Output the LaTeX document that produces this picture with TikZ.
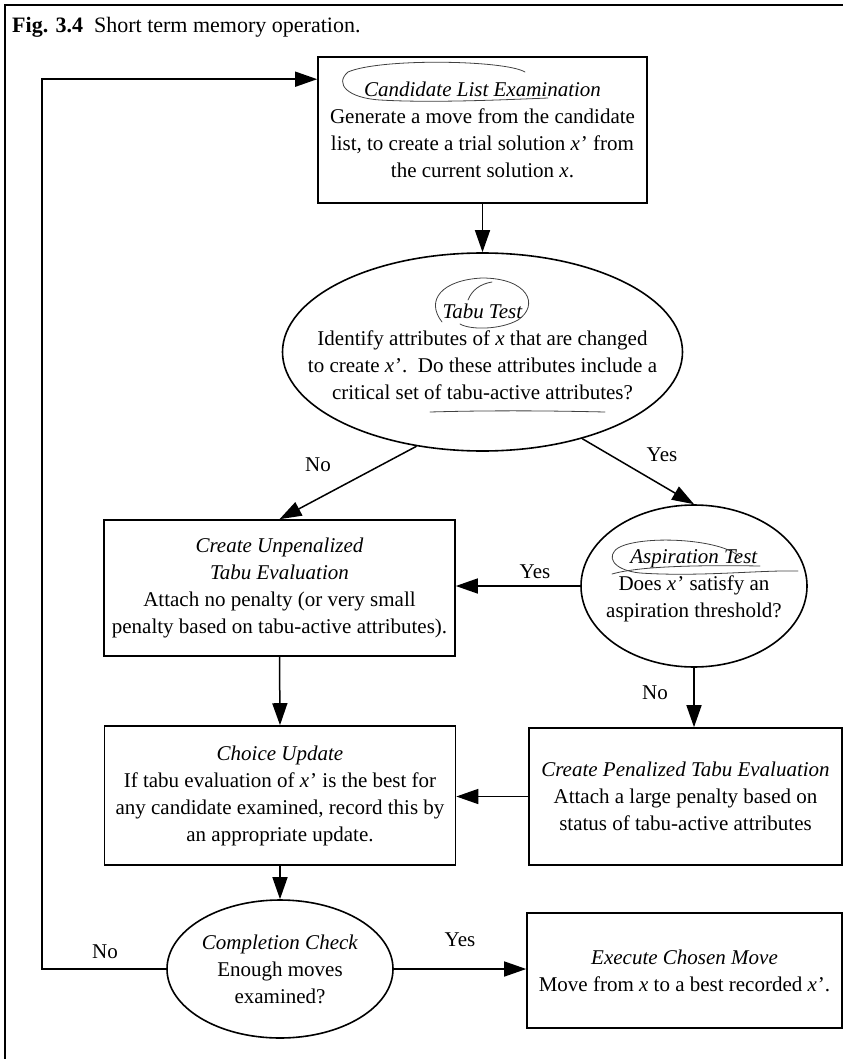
\documentclass[tikz,border=0pt]{standalone}
\usepackage{fontspec}
\setmainfont{Liberation Serif}
\usetikzlibrary{arrows.meta,shapes.geometric}
\begin{document}
\begin{tikzpicture}[x=1pt,y=-1pt,
  font=\fontsize{21}{27}\selectfont,
  rbox/.style={draw, line width=1.6pt, rectangle, align=center, inner sep=0pt},
  ell/.style={draw, line width=1.6pt, ellipse, inner sep=0pt},
  txt/.style={align=center, inner sep=0pt},
  lbl/.style={inner sep=0pt},
  arr/.style={line width=1.5pt, -{Triangle[length=22pt,width=15pt]}},
  frame/.style={line width=1.3pt},
  pen/.style={line width=0.8pt, draw=black!75, line cap=round}]
\useasboundingbox (0,0) rectangle (843,1059);
% frame
\draw[frame] (5,1059) -- (5,5) -- (843,5);
% title
\node[anchor=base west, inner sep=0pt, font=\fontsize{22}{26}\selectfont] (title) at (12,33)
  {\textbf{Fig. 3.4}\enspace Short term memory operation.};
% nodes
\node[rbox, minimum width=329pt, minimum height=146pt] (cand) at (482.5,130)
  {\textit{Candidate List Examination}\\ Generate a move from the candidate\\ list, to create a trial solution \textit{x}\kern1pt' from\\ the current solution \textit{x}.};
\node[ell, minimum width=400pt, minimum height=198pt] (tabu) at (482.5,352) {};
\node[txt] (tabuT) at (tabu.center)
  {\textit{Tabu Test}\\ Identify attributes of \textit{x} that are changed\\ to create \textit{x}\kern1pt'.\ \ Do these attributes include a\\ critical set of tabu-active attributes?};
\node[rbox, minimum width=351pt, minimum height=136pt] (unpen) at (279.5,588)
  {\textit{Create Unpenalized}\\ \textit{Tabu Evaluation}\\ Attach no penalty (or very small\\ penalty based on tabu-active attributes).};
\node[ell, minimum width=226pt, minimum height=162pt] (asp) at (694,586) {};
\node[txt] (aspT) at (asp.center)
  {\textit{Aspiration Test}\\ Does \textit{x}\kern1pt' satisfy an\\ aspiration threshold?};
\node[rbox, minimum width=351pt, minimum height=139pt] (choice) at (280,795.5)
  {\textit{Choice Update}\\ If tabu evaluation of \textit{x}\kern1pt' is the best for\\ any candidate examined, record this by\\ an appropriate update.};
\node[rbox, minimum width=313pt, minimum height=137pt] (pen) at (685.5,796.5)
  {\textit{Create Penalized Tabu Evaluation}\\ Attach a large penalty based on\\ status of tabu-active attributes};
\node[ell, minimum width=226pt, minimum height=138pt] (comp) at (280,969) {};
\node[txt] (compT) at (comp.center)
  {\textit{Completion Check}\\ Enough moves\\ examined?};
\node[rbox, minimum width=315pt, minimum height=115pt] (exec) at (684.5,970.5)
  {\textit{Execute Chosen Move}\\ Move from \textit{x} to a best recorded \textit{x}\kern1pt'.};
% labels
\node[lbl] (no1) at (318,465) {No};
\node[lbl] (yes1) at (662,455) {Yes};
\node[lbl] (yes2) at (535,572) {Yes};
\node[lbl] (no2) at (655,693) {No};
\node[lbl] (no3) at (105,952) {No};
\node[lbl] (yes3) at (460,940) {Yes};
% connectors
\coordinate (loopx) at (42,0);
\draw[arr] (comp.west) -- (comp.west -| loopx) |- ([yshift=-23pt]cand.north west);
\draw[arr] (cand.south) -- (tabu.north);
\draw[arr] (tabu.235) -- (unpen.north);
\draw[arr] (tabu.-41) -- (asp.north);
\draw[arr] (asp.west) -- (asp.west -| unpen.east);
\draw[arr] (asp.south) -- (asp.south |- pen.north);
\draw[arr] (pen.west) -- (pen.west -| choice.east);
\draw[arr] (unpen.south) -- (choice.north);
\draw[arr] (choice.south) -- (comp.north);
\draw[arr] (comp.east) -- (comp.east -| exec.west);
% hand-drawn pen marks
\draw[pen] (525,72) .. controls (505,60) and (380,58) .. (348,72)
  .. controls (334,84) and (348,98) .. (380,100) .. controls (430,103) and (500,100) .. (548,98);
\draw[pen] (442,322) .. controls (425,300) and (442,280) .. (482,278)
  .. controls (528,278) and (540,305) .. (518,320) .. controls (500,330) and (470,330) .. (460,324);
\draw[pen] (468,300) .. controls (472,290) and (480,284) .. (492,282);
\draw[pen] (430,412) .. controls (500,410) and (560,411) .. (605,412);
\draw[pen] (740,557) .. controls (720,538) and (640,535) .. (618,548)
  .. controls (606,556) and (612,570) .. (640,573) .. controls (700,577) and (760,570) .. (798,571);
\draw[pen] (612,574) .. controls (640,566) and (700,565) .. (760,566);
\end{tikzpicture}
\end{document}
